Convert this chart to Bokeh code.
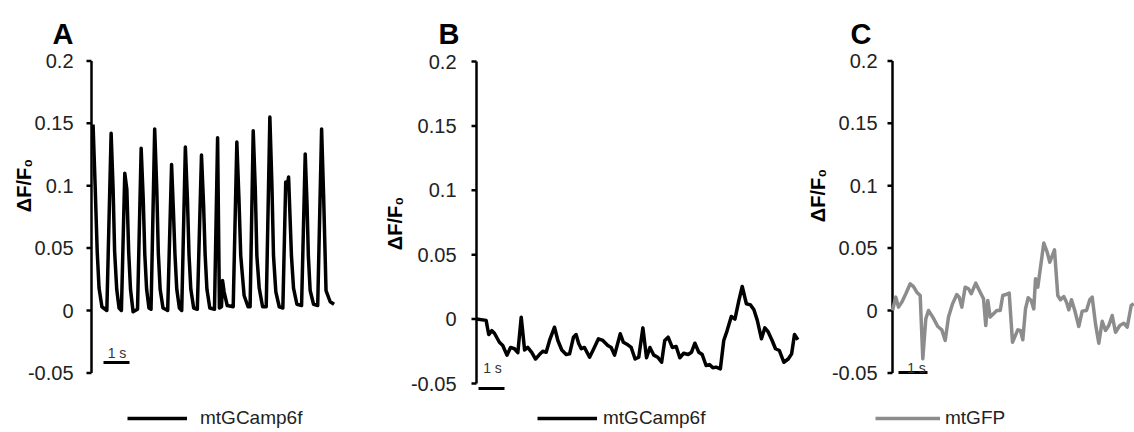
import math
from bokeh.plotting import figure
from bokeh.models import Legend, LegendItem, Range1d
from bokeh.core.properties import value
from bokeh.layouts import row
from bokeh.embed import file_html
from bokeh.resources import INLINE

# ---------------- data (time in s, dF/F0) ----------------
t_a = [0.06, 0.14, 0.22, 0.29, 0.40, 0.59,
       0.755, 0.83, 0.89, 0.97, 1.06, 1.15,
       1.28, 1.36, 1.43, 1.50, 1.60, 1.77,
       1.91, 1.99, 2.05, 2.12, 2.21, 2.29,
       2.43, 2.51, 2.57, 2.64, 2.75, 2.93,
       3.08, 3.15, 3.21, 3.28, 3.38, 3.47,
       3.61, 3.69, 3.75, 3.82, 3.93, 4.07,
       4.23, 4.31, 4.37, 4.44, 4.55, 4.73,
       4.85, 4.92, 5.00, 5.04, 5.10, 5.22, 5.45,
       5.59, 5.67, 5.74, 5.87, 6.02, 6.10,
       6.22, 6.30, 6.36, 6.45, 6.58, 6.72,
       6.86, 6.94, 7.00, 7.09, 7.22, 7.36,
       7.47, 7.53, 7.58, 7.69, 7.77, 7.90, 8.08,
       8.22, 8.29, 8.34, 8.41, 8.54, 8.70,
       8.85, 8.93, 9.02, 9.18, 9.33]
v_a = [0.149, 0.100, 0.047, 0.018, 0.003, 0.000,
       0.142, 0.098, 0.047, 0.017, 0.002, 0.000,
       0.110, 0.097, 0.047, 0.017, -0.001, 0.001,
       0.130, 0.089, 0.045, 0.017, 0.002, 0.001,
       0.1455, 0.098, 0.046, 0.017, 0.002, 0.000,
       0.117, 0.080, 0.045, 0.017, 0.002, 0.000,
       0.131, 0.089, 0.045, 0.017, 0.002, 0.001,
       0.1245, 0.085, 0.045, 0.017, 0.002, 0.001,
       0.1385, 0.002, 0.003, 0.024, 0.015, 0.004, 0.003,
       0.135, 0.090, 0.044, 0.012, 0.003, 0.003,
       0.144, 0.097, 0.044, 0.018, 0.003, 0.003,
       0.155, 0.100, 0.044, 0.015, 0.003, 0.002,
       0.103, 0.100, 0.107, 0.044, 0.018, 0.005, 0.004,
       0.1255, 0.085, 0.044, 0.016, 0.005, 0.004,
       0.1455, 0.090, 0.016, 0.007, 0.005]

t_b = [0.00, 0.37, 0.47, 0.59, 0.69, 0.88, 1.01, 1.17, 1.31, 1.46,
       1.59, 1.72, 1.85, 1.97, 2.13, 2.27, 2.42, 2.55, 2.68, 2.81,
       3.00, 3.13, 3.28, 3.45, 3.58, 3.73, 3.83, 3.93, 4.03, 4.15,
       4.35, 4.51, 4.69, 4.86, 5.05, 5.18, 5.31, 5.53, 5.65, 5.82,
       5.95, 6.10, 6.24, 6.40, 6.54, 6.67, 6.82, 6.97, 7.12, 7.24,
       7.37, 7.53, 7.68, 7.82, 7.97, 8.14, 8.27, 8.40, 8.55, 8.68,
       8.83, 8.96, 9.09, 9.22, 9.38, 9.51, 9.64, 9.80, 9.94, 10.09,
       10.22, 10.38, 10.54, 10.67, 10.80, 10.96, 11.09, 11.22, 11.37, 11.50,
       11.65, 11.82, 11.99, 12.12, 12.23, 12.36]
v_b = [0.000, -0.001, -0.012, -0.009, -0.011, -0.018, -0.0205, -0.028, -0.022, -0.023,
       -0.026, 0.0015, -0.024, -0.022, -0.026, -0.031, -0.0275, -0.025, -0.0257, -0.0166,
       -0.0063, -0.0166, -0.024, -0.0275, -0.027, -0.014, -0.012, -0.019, -0.023, -0.022,
       -0.0296, -0.023, -0.0153, -0.0166, -0.0205, -0.022, -0.028, -0.0114, -0.018, -0.020,
       -0.022, -0.031, -0.0296, -0.0068, -0.030, -0.022, -0.028, -0.0296, -0.0335, -0.0166,
       -0.014, -0.022, -0.0213, -0.030, -0.0265, -0.0275, -0.0257, -0.0187, -0.0257, -0.0275,
       -0.036, -0.0353, -0.0378, -0.0373, -0.0386, -0.0166, -0.0089, 0.002, 0.000, 0.0144,
       0.0253, 0.0119, 0.011, 0.0072, -0.001, -0.0153, -0.0068, -0.010, -0.0166, -0.023,
       -0.0244, -0.0335, -0.031, -0.027, -0.012, -0.016]

t_c = [0.00, 0.114, 0.207, 0.321, 0.459, 0.610, 0.724, 0.838, 0.955, 1.045,
       1.148, 1.241, 1.390, 1.562, 1.700, 1.817, 1.931, 2.069, 2.217, 2.300,
       2.390, 2.507, 2.621, 2.714, 2.872, 3.024, 3.138, 3.217, 3.286, 3.369,
       3.483, 3.597, 3.714, 3.803, 3.907, 4.024, 4.138, 4.321, 4.414, 4.493,
       4.586, 4.679, 4.783, 4.872, 4.931, 5.010, 5.217, 5.334, 5.424, 5.586,
       5.700, 5.793, 5.907, 6.000, 6.079, 6.172, 6.286, 6.424, 6.541, 6.690,
       6.803, 6.886, 7.000, 7.114, 7.231, 7.345, 7.459, 7.576, 7.690, 7.838,
       7.976, 8.093, 8.231, 8.321]
v_c = [0.000, 0.0107, 0.0027, 0.0067, 0.0134, 0.0214, 0.0192, 0.0147, 0.012, -0.0387,
       -0.0067, 0.000, -0.0053, -0.0128, -0.0155, -0.024, -0.0053, 0.0053, 0.0128, 0.0107,
       0.0027, 0.0187, 0.0174, 0.0134, 0.0219, 0.0147, 0.0094, -0.012, 0.008, -0.0053,
       -0.0027, 0.000, 0.000, 0.012, 0.0128, 0.0139, -0.0254, -0.0155, -0.016, -0.0235,
       0.0013, 0.0102, 0.008, 0.0013, 0.0254, 0.0187, 0.054, 0.0467, 0.0387, 0.0486,
       0.012, 0.0086, 0.0112, 0.0067, 0.0005, 0.0086, 0.000, -0.0128, -0.0005, 0.000,
       0.0086, 0.0107, -0.0107, -0.0262, -0.0086, -0.016, -0.012, -0.004, -0.0174, -0.012,
       -0.0102, -0.0134, 0.004, 0.0054]

ytick_values = [-0.05, 0, 0.05, 0.1, 0.15, 0.2]
ytick_labels = ["-0.05", "0", "0.05", "0.1", "0.15", "0.2"]
panel_letters = ["A", "B", "C"]
series_names = ["mtGCamp6f", "mtGCamp6f", "mtGFP"]
series_colors = ["#000000", "#000000", "#8c8c8c"]
y_title = "\u0394F/F\u2080"
scale_bar_seconds = 1
scale_bar_text = "1 s"

FONT = "Liberation Sans"
FIG_H = 432

# layout of each panel, in page pixels (page top-left = 0,0)
panels = [
    dict(t=t_a, v=v_a, left=0, width=383, axis_x=91, zero_y=310, ppu=1248, pps=26,
         standoff=13, letter=(52, 33), ytitle=(23, 185), bar=(103, 362), bartxt=(116.5, 352),
         leg_x=127, leg_std=13, leg_w=60, lw=3.5),
    dict(t=t_b, v=v_b, left=383, width=422, axis_x=476, zero_y=318.6, ppu=1288, pps=26,
         standoff=15, letter=(438, 33), ytitle=(394, 223), bar=(478, 388), bartxt=(492, 367),
         leg_x=537, leg_std=6, leg_w=60, lw=3.5),
    dict(t=t_c, v=v_c, left=805, width=329, axis_x=892, zero_y=310, ppu=1248, pps=29,
         standoff=10, letter=(850, 33), ytitle=(817.5, 195), bar=(898, 372), bartxt=(916, 367),
         leg_x=875, leg_std=5, leg_w=65, lw=3.5),
]
LEG_CENTER_Y = 418

figs = []
for i, cfg in enumerate(panels):
    def tx(px, c=cfg):
        return (px - c["axis_x"]) / c["pps"]

    def vy(py, c=cfg):
        return (c["zero_y"] - py) / c["ppu"]

    p = figure(width=cfg["width"], height=FIG_H, output_backend="svg", toolbar_location=None,
               x_range=Range1d(tx(cfg["left"]), tx(cfg["left"] + cfg["width"])),
               y_range=Range1d(vy(FIG_H), vy(0)),
               x_axis_location=None, y_axis_location=None,
               min_border_left=0, min_border_right=0, min_border_top=0, min_border_bottom=0)
    p.outline_line_color = None
    p.xgrid.visible = False
    p.ygrid.visible = False
    p.background_fill_color = "white"
    p.border_fill_color = "white"

    # ---- y axis (line, ticks, tick labels) ----
    p.segment(x0=[0], x1=[0], y0=[ytick_values[0]], y1=[ytick_values[-1]],
              line_color="black", line_width=2.5)
    tick_end = tx(cfg["axis_x"] - 5)
    p.segment(x0=[tick_end] * len(ytick_values), x1=[0] * len(ytick_values),
              y0=ytick_values, y1=ytick_values, line_color="black", line_width=2.5)
    p.text(x=[tx(cfg["axis_x"] - 5 - cfg["standoff"])] * len(ytick_values), y=ytick_values,
           text=ytick_labels, text_align="right", text_baseline="middle",
           text_font=value(FONT), text_font_size="20px", text_color="#222222")

    # ---- trace ----
    r = p.line(cfg["t"], cfg["v"], line_color=series_colors[i], line_width=cfg["lw"],
               line_join="round")

    # ---- panel letter ----
    p.text(x=[tx(cfg["letter"][0])], y=[vy(cfg["letter"][1])], text=[panel_letters[i]],
           text_font=value(FONT), text_font_size="29px", text_font_style="bold",
           text_align="left", text_baseline="alphabetic", text_color="black")
    # ---- y title ----
    p.text(x=[tx(cfg["ytitle"][0])], y=[vy(cfg["ytitle"][1])], text=[y_title],
           angle=math.pi / 2, text_font=value(FONT), text_font_size="20px",
           text_font_style="bold", text_align="center", text_baseline="middle",
           text_color="black")
    # ---- scale bar ----
    b0 = tx(cfg["bar"][0])
    by = vy(cfg["bar"][1])
    p.segment(x0=[b0], x1=[b0 + scale_bar_seconds], y0=[by], y1=[by],
              line_color="black", line_width=3)
    p.text(x=[tx(cfg["bartxt"][0])], y=[vy(cfg["bartxt"][1])], text=[scale_bar_text],
           text_font=value(FONT), text_font_size="14px", text_align="center",
           text_baseline="alphabetic", text_color="#333333")

    # ---- legend ----
    item_h = 22
    leg = Legend(items=[LegendItem(label=value(series_names[i]), renderers=[r])],
                 location=(cfg["leg_x"] - cfg["left"], (FIG_H - LEG_CENTER_Y) - item_h / 2),
                 padding=0, margin=0, spacing=0, glyph_width=cfg["leg_w"], glyph_height=item_h,
                 label_height=item_h, label_standoff=cfg["leg_std"], label_text_font=FONT,
                 label_text_font_size="19px", label_text_color="#222222",
                 border_line_color=None, background_fill_alpha=0)
    p.add_layout(leg)
    figs.append(p)

layout = row(*figs, spacing=0)
open("out.html", "w").write(file_html(layout, INLINE))
